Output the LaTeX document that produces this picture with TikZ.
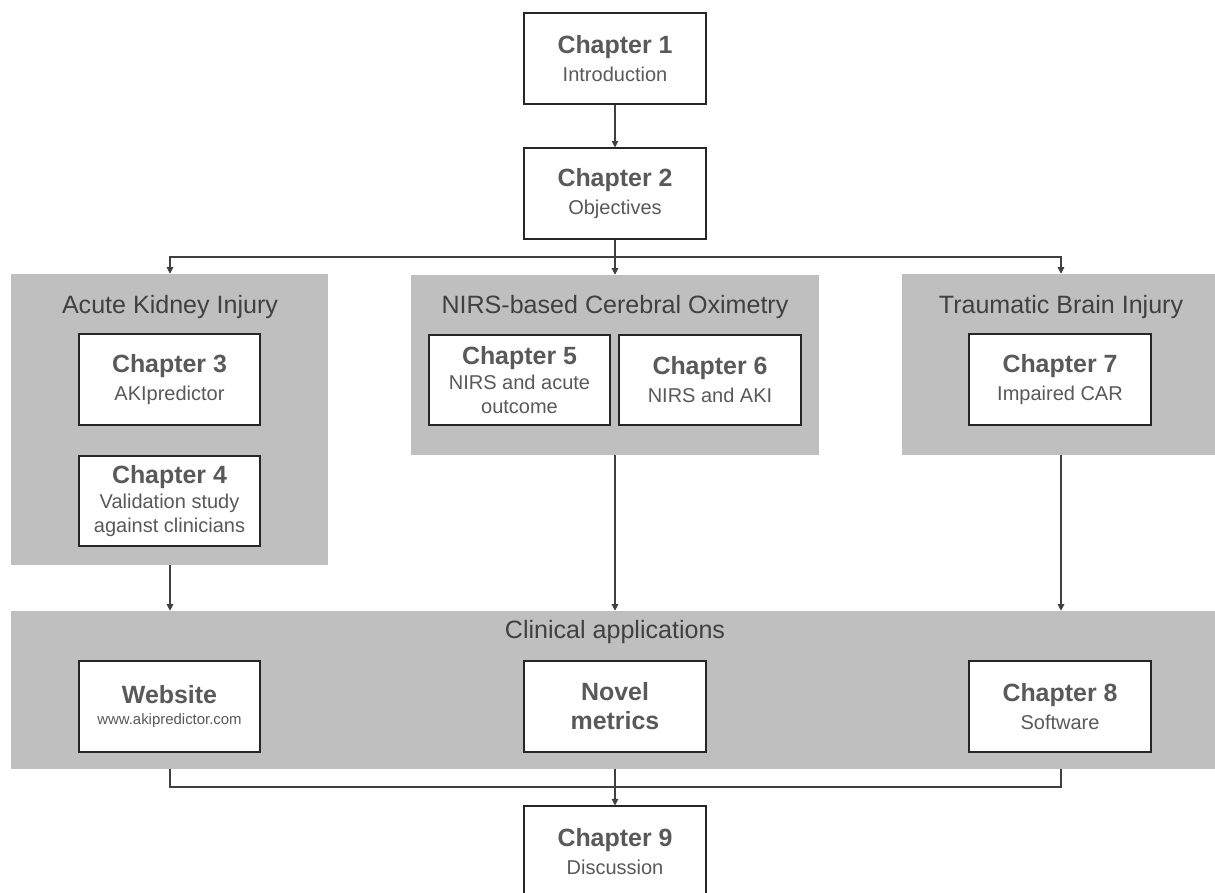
\documentclass[tikz,border=0pt]{standalone}
\usepackage{fontspec}
\setmainfont{Liberation Sans}
\usetikzlibrary{arrows.meta,fit}

\definecolor{panel}{HTML}{BFBFBF}
\definecolor{txt}{HTML}{595959}
\definecolor{ttl}{HTML}{404040}
\definecolor{linec}{HTML}{404040}

\newcommand\hd[1]{{\fontsize{18.7}{21}\bfseries\selectfont #1}}

\tikzset{
  wbox/.style={draw=black!85, fill=white, line width=0.8pt, inner sep=0pt},
  wtext/.style={anchor=center, inner sep=0pt, align=center, text=txt,
    font=\fontsize{15}{17.5}\selectfont},
  gbox/.style={fill=panel, draw=none, inner sep=0pt},
  gtitle/.style={anchor=base, text=ttl, inner sep=0pt, font=\fontsize{18.8}{22}\selectfont},
  conn/.style={draw=linec, line width=0.8pt},
  arr/.style={conn, -{Triangle[width=5pt,length=5pt]}}
}

\begin{document}
\begin{tikzpicture}[x=0.75pt, y=-0.75pt]
\useasboundingbox (0,0) rectangle (1215,893);

% grey panels
\node[gbox, fit={(11,274) (328,565)}] (aki) {};
\node[gbox, fit={(411,275) (819,455)}] (nirs) {};
\node[gbox, fit={(902,274) (1215,455)}] (tbi) {};
\node[gbox, fit={(11,611) (1215,769)}] (clin) {};

\node[gtitle] (akiT) at (170,313) {Acute Kidney Injury};
\node[gtitle] (nirsT) at (615,313) {NIRS-based Cerebral Oximetry};
\node[gtitle] (tbiT) at (1061,313) {Traumatic Brain Injury};
\node[gtitle] (clinT) at (615,638) {Clinical applications};

% chapter boxes
\node[wbox, fit={(524,13) (706,104)}] (c1) {};
\node[wbox, fit={(524,148) (706,239)}] (c2) {};
\node[wbox, fit={(79,334) (260,425)}] (c3) {};
\node[wbox, fit={(79,456) (260,546)}] (c4) {};
\node[wbox, fit={(429,335) (610,425)}] (c5) {};
\node[wbox, fit={(619,335) (801,425)}] (c6) {};
\node[wbox, fit={(969,334) (1151,425)}] (c7) {};
\node[wbox, fit={(79,661) (260,752)}] (web) {};
\node[wbox, fit={(524,661) (706,752)}] (nov) {};
\node[wbox, fit={(969,661) (1151,752)}] (c8) {};
\node[wbox, fit={(524,806) (706,897)}] (c9) {};

% box texts
\node[wtext] (c1t) at (c1) {\hd{Chapter 1}\\[3.5pt]Introduction};
\node[wtext] (c2t) at (c2) {\hd{Chapter 2}\\[3.5pt]Objectives};
\node[wtext] (c3t) at (c3) {\hd{Chapter 3}\\[3.5pt]AKIpredictor};
\node[wtext] (c4t) at (c4) {\hd{Chapter 4}\\[1.5pt]Validation study\\against clinicians};
\node[wtext] (c5t) at (c5) {\hd{Chapter 5}\\[1.5pt]NIRS and acute\\outcome};
\node[wtext] (c6t) at (c6) {\hd{Chapter 6}\\[3.5pt]NIRS and AKI};
\node[wtext] (c7t) at (c7) {\hd{Chapter 7}\\[3.5pt]Impaired CAR};
\node[wtext, font=\fontsize{11.2}{13.5}\selectfont] (webt) at (web) {\hd{Website}\\[2.5pt]www.akipredictor.com};
\node[wtext, font=\fontsize{18.7}{21.75}\bfseries\selectfont] (novt) at (nov) {Novel\\metrics};
\node[wtext] (c8t) at (c8) {\hd{Chapter 8}\\[3.5pt]Software};
\node[wtext] (c9t) at (c9) {\hd{Chapter 9}\\[3.5pt]Discussion};

% junction points
\coordinate (split) at (615,257);
\coordinate (sL) at (170,257);
\coordinate (sR) at (1061,257);
\coordinate (join) at (615,787);
\coordinate (jL) at (170,787);
\coordinate (jR) at (1061,787);

% connectors
\draw[arr] (c1.south) -- (c2.north);
\draw[conn] (c2.south) -- (split);
\draw[arr] (split) -| (aki.north -| sL);
\draw[arr] (split) -| (tbi.north -| sR);
\draw[arr] (split) -- (nirs.north -| split);

\draw[arr] (aki.south -| sL) -- (clin.north -| sL);
\draw[arr] (nirs.south -| split) -- (clin.north -| split);
\draw[arr] (tbi.south -| sR) -- (clin.north -| sR);

\draw[conn] (clin.south -| jL) -- (jL) -- (jR) -- (clin.south -| jR);
\draw[arr] (clin.south -| join) -- (c9.north);
\end{tikzpicture}
\end{document}
